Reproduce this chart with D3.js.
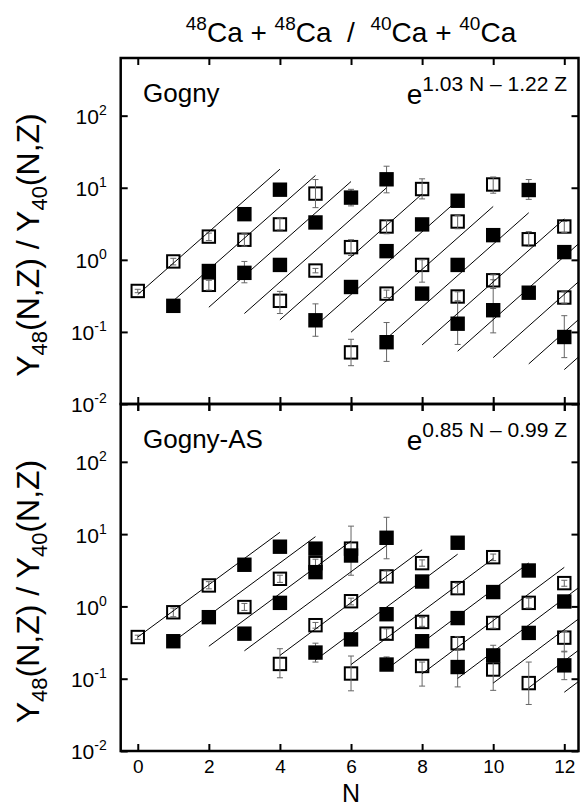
<!DOCTYPE html>
<html>
<head>
<meta charset="utf-8">
<script src="https://cdn.jsdelivr.net/npm/d3@7"></script>
<style>
    body { margin: 0; background: #fff; }
    text { font-family: 'Liberation Sans', Arial, Helvetica, sans-serif; fill: #000; }
</style>
</head>
<body>
<svg id="chart" width="581" height="808"></svg>
<script>

const xTicks = [0, 2, 4, 6, 8, 10, 12]
const yDecades = [0.01, 0.1, 1, 10, 100]
const decadeExp = ['-2', '-1', '0', '1', '2']

const panelNames = ['Gogny', 'Gogny-AS']
const fitLabels = ['1.03 N \u2013 1.22 Z', '0.85 N \u2013 0.99 Z']

// gogny, rows are [N, ratio, error low, error high]
const gognyOpen = [
    [0, 0.37, 0.35, 0.39], [1, 0.95, 0.85, 1.05], [2, 2.1, 1.85, 2.35], [2, 0.45, 0.38, 0.52],
    [3, 1.9, 1.55, 2.3], [4, 3.1, 2.6, 3.8], [4, 0.27, 0.18, 0.365], [5, 8.3, 5.3, 13.0],
    [5, 0.71, 0.66, 0.76], [6, 1.5, 1.15, 1.9], [6, 0.052, 0.034, 0.079], [7, 2.9, 2.3, 3.6],
    [7, 0.34, 0.30, 0.38], [8, 9.6, 7.0, 13.3], [8, 0.85, 0.49, 1.0], [9, 3.4, 2.7, 4.1],
    [9, 0.31, 0.27, 0.36], [10, 11.1, 8.4, 14.1], [10, 0.52, 0.40, 0.62], [11, 1.93, 1.53, 2.46],
    [12, 2.9, 2.4, 3.4], [12, 0.30, 0.25, 0.36]
]
const gognyFilled = [
    [1, 0.23, 0.21, 0.25], [2, 0.70, 0.64, 0.76], [3, 4.3, 3.9, 4.7], [3, 0.66, 0.48, 0.95],
    [4, 9.4, 8.5, 10.3], [4, 0.85, 0.78, 0.92], [5, 3.3, 3.0, 3.6], [5, 0.145, 0.087, 0.245],
    [6, 7.3, 5.6, 9.5], [6, 0.42, 0.38, 0.46], [7, 13.1, 8.5, 19.9], [7, 1.32, 1.2, 1.45],
    [7, 0.072, 0.039, 0.135], [8, 3.1, 2.8, 3.4], [8, 0.34, 0.31, 0.37], [9, 6.6, 6.0, 7.2],
    [9, 0.85, 0.78, 0.92], [9, 0.13, 0.067, 0.265], [10, 2.2, 2.0, 2.4], [10, 0.20, 0.097, 0.53],
    [11, 9.3, 6.9, 13.0], [11, 0.35, 0.32, 0.38], [12, 1.28, 1.17, 1.4], [12, 0.085, 0.044, 0.168]
]
// isoscaling fit lines, [N start, ratio start, N end, ratio end]
const gognyLines = [
    [0, 0.33, 4, 18.1], [1, 0.27, 5, 14.8], [2, 0.22, 6, 12.2], [3, 0.18, 7, 10.0],
    [4, 0.147, 8, 8.2], [5, 0.121, 9, 6.7], [6, 0.099, 10, 5.5], [7, 0.081, 11, 4.5],
    [8, 0.066, 12, 3.7], [9, 0.054, 13, 3.06], [10, 0.044, 14, 2.5], [11, 0.036, 15, 2.06],
    [12, 0.030, 16, 1.70]
]

// gogny-AS
const gognyAsOpen = [
    [0, 0.377, 0.35, 0.4], [1, 0.83, 0.72, 0.95], [2, 1.95, 1.75, 2.2], [3, 0.98, 0.88, 1.1],
    [4, 2.41, 2.15, 2.7], [4, 0.16, 0.103, 0.26], [5, 3.97, 3.5, 4.5], [5, 0.55, 0.5, 0.6],
    [6, 6.3, 2.7, 12.9], [6, 1.18, 1.05, 1.3], [6, 0.118, 0.068, 0.206], [7, 2.6, 2.2, 3.1],
    [7, 0.42, 0.36, 0.49], [8, 3.97, 3.6, 4.4], [8, 0.61, 0.53, 0.7], [8, 0.15, 0.079, 0.17],
    [9, 1.79, 1.5, 2.1], [9, 0.31, 0.25, 0.38], [10, 4.8, 4.3, 5.3], [10, 0.59, 0.5, 0.7],
    [10, 0.134, 0.069, 0.29], [11, 1.12, 0.95, 1.3], [11, 0.087, 0.044, 0.17], [12, 2.1, 1.9, 2.3],
    [12, 0.37, 0.24, 0.45]
]
const gognyAsFilled = [
    [1, 0.33, 0.3, 0.36], [2, 0.71, 0.65, 0.78], [3, 3.77, 3.5, 4.1], [3, 0.42, 0.38, 0.46],
    [4, 6.7, 6.2, 7.3], [4, 1.12, 1.0, 1.25], [5, 6.3, 5.8, 6.8], [5, 2.98, 2.7, 3.3],
    [5, 0.23, 0.17, 0.31], [6, 5.06, 4.6, 5.5], [6, 0.35, 0.32, 0.38], [7, 8.9, 4.56, 17.1],
    [7, 0.78, 0.7, 0.86], [7, 0.157, 0.13, 0.2], [8, 2.21, 2.0, 2.45], [8, 0.33, 0.3, 0.36],
    [9, 7.6, 6.7, 8.6], [9, 0.69, 0.62, 0.76], [9, 0.145, 0.077, 0.247], [10, 1.58, 1.4, 1.8],
    [10, 0.21, 0.19, 0.23], [11, 3.14, 2.6, 3.8], [11, 0.43, 0.39, 0.47], [12, 1.17, 1.05, 1.3],
    [12, 0.153, 0.097, 0.235]
]
const gognyAsLines = [
    [0, 0.377, 4, 10.6], [1, 0.325, 5, 9.23], [2, 0.281, 6, 8.03], [3, 0.243, 7, 6.98],
    [4, 0.210, 8, 6.07], [5, 0.181, 9, 5.28], [6, 0.157, 10, 4.59], [7, 0.135, 11, 3.99],
    [8, 0.117, 12, 3.47], [9, 0.101, 13, 3.02], [10, 0.087, 14, 2.62], [11, 0.075, 15, 2.28],
    [12, 0.065, 16, 1.98]
]

const svg = d3.select('#chart')

const left = 120.7
const right = 578.5
const xScale = d3.scaleLinear()
    .domain([-0.48, 12.4])
    .range([left, right])

// title with mass number superscripts
const title = svg.append('text')
    .attr('x', 351)
    .attr('y', 42)
    .attr('text-anchor', 'middle')
    .attr('font-size', '28px')
    .style('white-space', 'pre')
const titleParts = [['48', true], ['Ca + ', false], ['48', true], ['Ca  /  ', false], ['40', true], ['Ca + ', false], ['40', true], ['Ca', false]]
titleParts.forEach((p, i) => {
    const prevSup = i > 0 && titleParts[i - 1][1]
    title.append('tspan')
        .attr('font-size', p[1] ? '19px' : '28px')
        .attr('dy', p[1] ? (prevSup ? 0 : -12) : (prevSup ? 12 : 0))
        .text(p[0])
})

const drawPanel = (top, bottom, idx, open, filled, lines, showX) => {

    const yScale = d3.scaleLog()
        .domain([0.01, Math.pow(10, 2.8)])
        .range([bottom, top])

    const g = svg.append('g')

    g.append('clipPath')
        .attr('id', 'clip' + idx)
        .append('rect')
        .attr('x', left)
        .attr('y', top)
        .attr('width', right - left)
        .attr('height', bottom - top)

    const plot = g.append('g').attr('clip-path', `url(#clip${idx})`)

    // open squares first, filled ones sit on top of them
    plot.selectAll('.open')
        .data(open)
        .enter()
        .append('rect')
            .attr('class', 'open')
            .attr('x', d => xScale(d[0]) - 6.2)
            .attr('y', d => yScale(d[1]) - 6.2)
            .attr('width', 12.4)
            .attr('height', 12.4)
            .attr('fill', '#fff')
            .attr('stroke', '#000')
            .attr('stroke-width', 2)

    // error bars
    const errs = plot.selectAll('.err')
        .data(open.concat(filled))
        .enter()
        .append('g')
            .attr('class', 'err')
            .attr('stroke', '#666')
            .attr('stroke-width', 1)
    errs.append('line')
        .attr('x1', d => xScale(d[0]))
        .attr('x2', d => xScale(d[0]))
        .attr('y1', d => yScale(d[2]))
        .attr('y2', d => yScale(d[3]))
    errs.append('line')
        .attr('x1', d => xScale(d[0]) - 3)
        .attr('x2', d => xScale(d[0]) + 3)
        .attr('y1', d => yScale(d[2]))
        .attr('y2', d => yScale(d[2]))
    errs.append('line')
        .attr('x1', d => xScale(d[0]) - 3)
        .attr('x2', d => xScale(d[0]) + 3)
        .attr('y1', d => yScale(d[3]))
        .attr('y2', d => yScale(d[3]))

    plot.selectAll('.filled')
        .data(filled)
        .enter()
        .append('rect')
            .attr('class', 'filled')
            .attr('x', d => xScale(d[0]) - 7.2)
            .attr('y', d => yScale(d[1]) - 7.2)
            .attr('width', 14.4)
            .attr('height', 14.4)
            .attr('fill', '#000')

    // isoscaling fit lines
    plot.selectAll('.fit')
        .data(lines)
        .enter()
        .append('line')
            .attr('class', 'fit')
            .attr('x1', d => xScale(d[0]))
            .attr('y1', d => yScale(d[1]))
            .attr('x2', d => xScale(d[2]))
            .attr('y2', d => yScale(d[3]))
            .attr('stroke', '#000')
            .attr('stroke-width', 1)

    // axes, all ticks point inward
    const axes = [
        [d3.axisTop(xScale).tickValues(xTicks), `translate(0,${top})`],
        [d3.axisBottom(xScale).tickValues(xTicks), `translate(0,${bottom})`],
        [d3.axisLeft(yScale).tickValues(yDecades), `translate(${left},0)`],
        [d3.axisRight(yScale).tickValues(yDecades), `translate(${right},0)`]
    ]
    axes.forEach((a, i) => {
        const ax = g.append('g')
            .attr('transform', a[1])
            .call(a[0].tickSize(-7).tickPadding(i == 1 ? 9 : 14))
        ax.select('.domain').remove()
        ax.selectAll('.tick line')
            .attr('stroke', '#000')
            .attr('stroke-width', 2)
        if (i == 0 || i == 3 || (i == 1 && !showX)) ax.selectAll('.tick text').remove()
        if (i == 1) {
            ax.selectAll('.tick text')
                .attr('font-size', '19px')
                .attr('font-family', null)
        }
        if (i == 2) {
            ax.selectAll('.tick text')
                .attr('font-size', '21px')
                .attr('font-family', null)
                .attr('dy', '0.38em')
                .text('10')
                .append('tspan')
                    .attr('font-size', '14px')
                    .attr('dy', -9)
                    .text((d, j) => decadeExp[j])
        }
    })
    // the bottom panel continues the middle border downward
    if (!showX) {
        g.append('g')
            .attr('transform', `translate(0,${bottom})`)
            .call(d3.axisBottom(xScale).tickValues(xTicks).tickSize(7).tickFormat(''))
            .call(ax => ax.select('.domain').remove())
            .selectAll('.tick line')
                .attr('stroke', '#000')
                .attr('stroke-width', 2)
    }

    // frame
    g.append('rect')
        .attr('x', left)
        .attr('y', top)
        .attr('width', right - left)
        .attr('height', bottom - top)
        .attr('fill', 'none')
        .attr('stroke', '#000')
        .attr('stroke-width', 2.5)

    g.append('text')
        .attr('x', 143)
        .attr('y', top + 44)
        .attr('font-size', '26px')
        .text(panelNames[idx])

    const fit = g.append('text')
        .attr('x', 567)
        .attr('y', top + 46)
        .attr('text-anchor', 'end')
        .attr('font-size', '28px')
        .text('e')
    fit.append('tspan')
        .attr('font-size', '21px')
        .attr('dy', -13)
        .text(fitLabels[idx])

    // y axis label with subscripts
    const yl = g.append('text')
        .attr('transform', `translate(39,${(top + bottom) / 2 + 14}) rotate(-90)`)
        .attr('text-anchor', 'middle')
        .attr('font-size', '32px')
    const ylParts = [['Y', 0], ['48', 1], ['(N,Z) / Y', 0], ['40', 1], ['(N,Z)', 0]]
    ylParts.forEach((p, i) => {
        yl.append('tspan')
            .attr('font-size', p[1] ? '22px' : '32px')
            .attr('dy', i == 0 ? 0 : (p[1] ? 8 : -8))
            .text(p[0])
    })
}

drawPanel(58, 404, 0, gognyOpen, gognyFilled, gognyLines, false)
drawPanel(404, 751, 1, gognyAsOpen, gognyAsFilled, gognyAsLines, true)

svg.append('text')
    .attr('x', 351)
    .attr('y', 802)
    .attr('text-anchor', 'middle')
    .attr('font-size', '25px')
    .text('N')

</script>
</body>
</html>
